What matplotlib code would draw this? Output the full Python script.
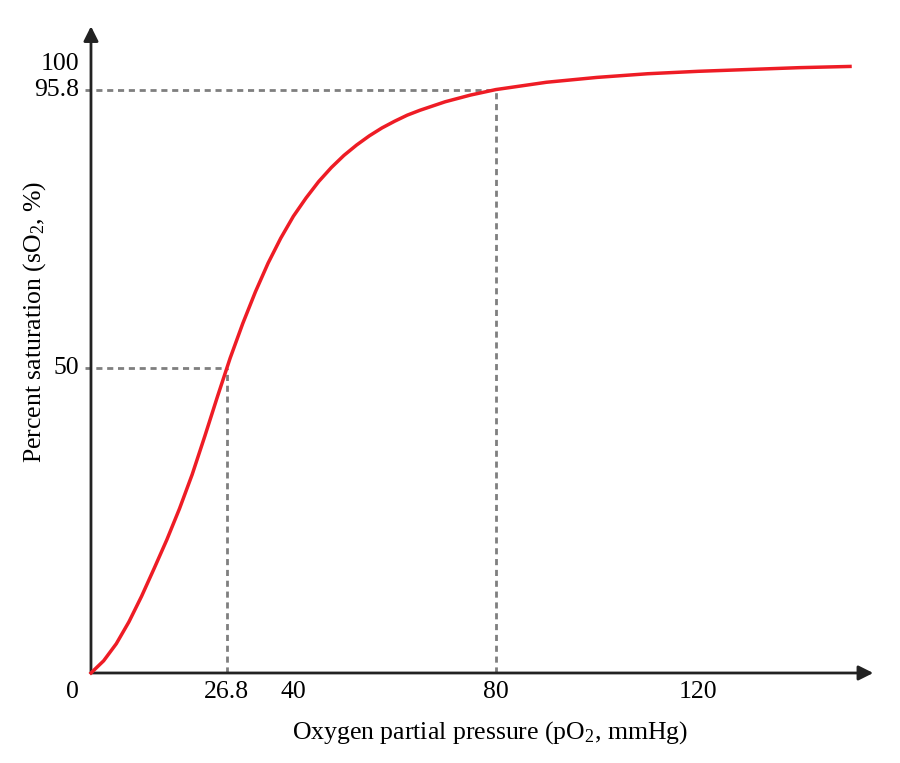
import matplotlib
matplotlib.use("Agg")
import matplotlib.pyplot as plt

plt.rcParams["font.family"] = ["Liberation Serif", "DejaVu Serif"]
plt.rcParams["mathtext.fontset"] = "custom"
plt.rcParams["mathtext.rm"] = "Liberation Serif"
plt.rcParams["mathtext.it"] = "Liberation Serif:italic"
plt.rcParams["mathtext.default"] = "rm"

# values
po2 = [0, 2.5, 5, 7.5, 10, 12.5, 15, 17.5, 20, 22.5, 25, 27.5, 30, 32.5, 35, 37.5,
       40, 42.5, 45, 47.5, 50, 52.5, 55, 57.5, 60, 62.5, 65, 67.5, 70, 75, 80,
       90, 100, 110, 120, 130, 140, 150]
so2 = [0, 2.0, 4.8, 8.4, 12.6, 17.2, 21.9, 27.0, 32.6, 38.9, 45.4, 51.7, 57.4, 62.6, 67.3, 71.4,
       75.0, 78.0, 80.7, 83.0, 85.0, 86.7, 88.2, 89.5, 90.6, 91.6, 92.4, 93.1, 93.8, 94.9, 95.8,
       97.0, 97.8, 98.4, 98.8, 99.1, 99.4, 99.6]

marks_x = [26.8, 80]
marks_y = [50, 95.8]
xticks = [26.8, 40, 80, 120]
yticks = [50, 95.8, 100]

fig = plt.figure(figsize=(9, 7.63), dpi=100)
ax = fig.add_axes([0, 0, 1, 1])
ax.set_xlim(-17.98, 159.88)
ax.set_ylim(-14.78, 110.51)
ax.axis("off")

axcol = "#222222"
ax.annotate("", xy=(154.6, 0), xytext=(0, 0),
            arrowprops=dict(arrowstyle="-|>", color=axcol, lw=2.0,
                            mutation_scale=22, shrinkA=0, shrinkB=0))
ax.annotate("", xy=(0, 106.2), xytext=(0, 0),
            arrowprops=dict(arrowstyle="-|>", color=axcol, lw=2.0,
                            mutation_scale=22, shrinkA=0, shrinkB=0))

dash = (0, (2.2, 1.7))
for mx, my in zip(marks_x, marks_y):
    ax.plot([-1.2, mx], [my, my], color="#7f7f7f", lw=2.0, ls=dash, zorder=2)
    ax.plot([mx, mx], [0, my], color="#7f7f7f", lw=2.0, ls=dash, zorder=2)

ax.plot(po2, so2, color="#ee1c25", lw=2.5, zorder=3, solid_joinstyle="round")

fs = 18.5
for t in xticks:
    ax.text(t, -3.1, f"{t:g}", ha="center", va="center", fontsize=fs)
for t in yticks:
    ax.text(-2.3, t, f"{t:g}", ha="right", va="center", fontsize=fs)
ax.text(-3.75, -3.1, "0", ha="center", va="center", fontsize=fs)

ax.text(78.9, -9.85, "Oxygen partial pressure (pO$_2$, mmHg)", ha="center", va="center", fontsize=fs)
ax.text(-11.1, 57.6, "Percent saturation (sO$_2$, %)", ha="center", va="center",
        rotation=90, fontsize=fs)

fig.savefig("out.png", dpi=100)
